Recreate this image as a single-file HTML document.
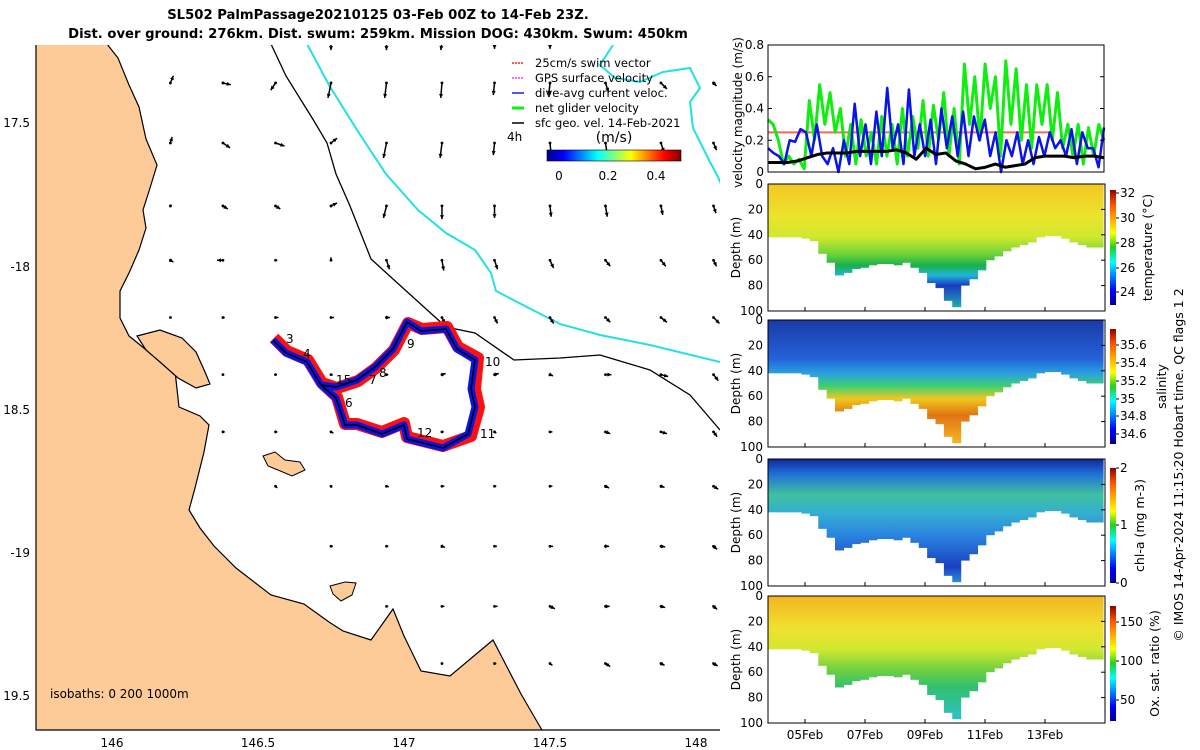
<!DOCTYPE html>
<html><head><meta charset="utf-8"><style>
html,body{margin:0;padding:0;background:#fff;}
svg{display:block;font-family:"DejaVu Sans","Liberation Sans",sans-serif;}
</style></head><body>
<svg id="fig" width="1200" height="750" viewBox="0 0 1200 750" xmlns="http://www.w3.org/2000/svg">
<defs>
<linearGradient id="jet" x1="0" x2="1" y1="0" y2="0">
<stop offset="0" stop-color="#00008f"/><stop offset="0.125" stop-color="#0000ff"/><stop offset="0.375" stop-color="#00ffff"/><stop offset="0.625" stop-color="#ffff00"/><stop offset="0.875" stop-color="#ff0000"/><stop offset="1" stop-color="#800000"/>
</linearGradient>
<linearGradient id="jetv" x1="0" x2="0" y1="1" y2="0">
<stop offset="0" stop-color="#00008f"/><stop offset="0.125" stop-color="#0000ff"/><stop offset="0.375" stop-color="#00ffff"/><stop offset="0.5" stop-color="#20d020"/><stop offset="0.625" stop-color="#ffff00"/><stop offset="0.875" stop-color="#ff5000"/><stop offset="1" stop-color="#900000"/>
</linearGradient>
<clipPath id="mapclip"><rect x="36" y="45" width="684" height="685"/></clipPath>
</defs>

<text x="378" y="19" text-anchor="middle" font-size="13.2" font-weight="bold">SL502 PalmPassage20210125 03-Feb 00Z to 14-Feb 23Z.</text>
<text x="378" y="38" text-anchor="middle" font-size="13.2" font-weight="bold">Dist. over ground: 276km. Dist. swum: 259km. Mission DOG: 430km. Swum: 450km</text>

<g id="map" clip-path="url(#mapclip)">
<polygon fill="#fccb98" stroke="#000" stroke-width="1.2" points="30,44 107,44 118,58 129,85 139,107 146,139 157,165 150,188 143,210 146,228 139,250 129,273 120,291 120,318 129,336 150,353 175,371 179,407 200,416 209,425 204,452 195,488 189,510 200,528 214,546 236,568 271,595 304,604 329,622 343,631 371,640 393,609 404,636 421,671 450,676 493,640 507,667 521,694 539,725 545,735 30,735"/>
<polygon fill="#fccb98" stroke="#000" stroke-width="1.2" points="137,336 160,330 182,338 196,352 205,372 210,384 196,388 178,378 160,362 146,350"/>
<polygon fill="#fccb98" stroke="#000" stroke-width="1" points="263,456 275,452 285,460 300,462 305,470 292,476 278,470 268,466"/>
<polygon fill="#fccb98" stroke="#000" stroke-width="1" points="330,586 345,582 356,583 352,595 341,601 333,594"/>
<polyline fill="none" stroke="#000" stroke-width="1.3" points="271,44 286,76 314,121 327,143 336,174 350,206 371,259 446,327 475,333 514,360 560,358 600,355 650,370 690,395 720,430"/>
<polyline fill="none" stroke="#22e0e6" stroke-width="2" points="307,44 329,85 357,130 386,174 418,210 446,233 475,250 491,273 496,291 521,304 560,324 600,335 650,345 720,362"/>
<polyline fill="none" stroke="#22e0e6" stroke-width="2" points="613,45 600,65 615,78 640,82 663,72 690,68 700,88 690,102 693,128 710,162 717,175 722,186"/>
<g id="arrows"></g>
<g>
<polyline fill="none" stroke="#ff1010" stroke-width="12" stroke-linejoin="round" points="274,338 287,351 308,360 322,383 337,388 358,381 376,368 394,350 408,323 422,329 447,327 458,347 478,358 475,389 479,407 471,436 443,446 407,437 404,423 382,432 357,424 345,424 337,397 322,383"/>
<polyline fill="none" stroke="#0a14e6" stroke-width="7" stroke-linejoin="round" points="273,340 286,353 307,362 321,385 336,387 357,380 375,367 393,349 407,322 421,331 446,329 457,349 475,360 471,389 475,407 468,434 443,448 407,439 404,425 382,434 357,425 345,425 336,398 321,385"/>
<polyline fill="none" stroke="#000" stroke-width="1.6" stroke-linejoin="round" points="273,340 286,353 307,362 321,385 336,387 357,380 375,367 393,349 407,322 421,331 446,329 457,349 475,360 471,389 475,407 468,434 443,448 407,439 404,425 382,434 357,425 345,425 336,398 321,385"/>
</g>
<g font-size="12">
<text x="286" y="343">3</text><text x="303" y="358">4</text><text x="336" y="384">15</text><text x="345" y="407">6</text><text x="369" y="384">7</text><text x="379" y="377">8</text><text x="407" y="348">9</text><text x="485" y="366">10</text><text x="480" y="438">11</text><text x="417" y="437">12</text>
</g>
<text x="50" y="698" font-size="12">isobaths: 0   200  1000m</text>
</g>
<polyline points="36,45 36,730 720,730" fill="none" stroke="#000" stroke-width="1.2"/>
<g font-size="12" text-anchor="middle">
<text x="112" y="747">146</text><text x="258" y="747">146.5</text><text x="404" y="747">147</text><text x="550" y="747">147.5</text><text x="696" y="747">148</text>
</g>
<g font-size="12" text-anchor="end">
<text x="30" y="127">17.5</text><text x="30" y="271">-18</text><text x="30" y="414">18.5</text><text x="30" y="557">-19</text><text x="30" y="700">19.5</text>
</g>

<g font-size="11.5">
<line x1="512" y1="63" x2="524" y2="63" stroke="#ff2020" stroke-width="1.5" stroke-dasharray="2 1"/><text x="535" y="67">25cm/s swim vector</text>
<line x1="512" y1="78" x2="524" y2="78" stroke="#ff30ff" stroke-width="1.5" stroke-dasharray="2 1"/><text x="535" y="82">GPS surface velocity</text>
<line x1="512" y1="93" x2="524" y2="93" stroke="#1020ff" stroke-width="1.5"/><text x="535" y="97">dive-avg current veloc.</text>
<line x1="512" y1="108" x2="524" y2="108" stroke="#10ee10" stroke-width="3"/><text x="535" y="112">net glider velocity</text>
<line x1="512" y1="123" x2="524" y2="123" stroke="#000" stroke-width="1.5"/><text x="535" y="127">sfc geo. vel. 14-Feb-2021</text>
<text x="507" y="141" font-size="12">4h</text>
<text x="614" y="142" font-size="14" text-anchor="middle">(m/s)</text>
<rect x="547" y="150" width="134" height="11" fill="url(#jet)" stroke="#000" stroke-width="0.6"/>
<text x="559" y="180" text-anchor="middle" font-size="12">0</text><text x="608" y="180" text-anchor="middle" font-size="12">0.2</text><text x="656" y="180" text-anchor="middle" font-size="12">0.4</text>
</g>

<g id="vel"></g>
<g id="depth"></g>

<text transform="translate(1183,465) rotate(-90)" text-anchor="middle" font-size="12.5">© IMOS 14-Apr-2024 11:15:20 Hobart time. QC flags 1  2</text>
</svg>
<script>
const NS='http://www.w3.org/2000/svg';
function mk(tag,attrs,parent){const e=document.createElementNS(NS,tag);for(const k in attrs)e.setAttribute(k,attrs[k]);parent.appendChild(e);return e;}

/* ---- geostrophic vector field data ---- */
const arrowLons=[146.2,146.38,146.56,146.75,146.94,147.13,147.31,147.5,147.69,147.88,148.06];
const arrowLats=[-17.22,-17.36,-17.57,-17.79,-17.98,-18.18,-18.38,-18.58,-18.77,-18.98,-19.19,-19.39];
const arrowU=[
[null,null,null,0,0,-0.02,0,0,null,null,null],
[0.05,0.13,-0.08,-0.05,-0.03,-0.02,-0.02,-0.02,0.05,0.1,0.05],
[0.03,0.12,0.15,0.1,-0.05,-0.03,-0.02,0.02,0.03,0.05,0.05],
[0.02,0.08,0.08,0.1,-0.05,0,0,0.02,0.03,0.03,0.04],
[0.05,-0.1,0.03,0,0.05,0.03,0.05,0.06,0.08,0.08,0.05],
[0.02,0.03,0.05,0.05,0.06,0.05,0.05,0.06,0.08,0.1,0.1],
[null,0.02,0.02,0.03,0.03,0.06,0.07,0.05,0.1,0.12,0.08],
[null,0.03,0.03,0.04,0.03,0.03,0.03,0.04,0.08,0.1,0.06],
[null,null,0.03,0.02,0.04,0.04,0.03,0.04,0.06,0.06,0.08],
[null,null,null,0.03,0.03,0.05,0.04,0.05,0.06,0.07,0.06],
[null,null,null,null,0.03,0.04,0.05,0.08,0.07,0.07,0.06],
[null,null,null,null,null,0.02,0.03,0.04,0.08,0.06,0.07]];
const arrowV=[
[null,null,null,-0.12,-0.12,-0.12,-0.1,-0.1,null,null,null],
[0.12,-0.03,-0.12,-0.25,-0.25,-0.25,-0.2,-0.2,-0.15,-0.1,-0.05],
[0.1,-0.08,-0.05,0.08,-0.25,-0.25,-0.2,-0.2,-0.2,-0.15,-0.12],
[0.02,-0.05,-0.05,0.05,-0.2,-0.22,-0.2,-0.18,-0.18,-0.15,-0.12],
[-0.03,0,0,0.05,-0.15,-0.17,-0.15,-0.13,-0.1,-0.1,-0.1],
[0,0,0,0,0,-0.1,-0.1,-0.1,-0.08,-0.08,-0.1],
[null,0,0,0,0,0.02,0.02,-0.02,0,-0.03,-0.1],
[null,0,0,-0.02,0,0,-0.02,0,-0.03,-0.03,-0.08],
[null,null,-0.03,-0.02,-0.01,0,0,0,-0.03,-0.02,-0.05],
[null,null,null,0,0,-0.02,0,0,0,-0.01,-0.05],
[null,null,null,null,0,0,0,-0.04,0,-0.02,-0.05],
[null,null,null,null,null,0,0,-0.03,-0.05,-0.03,-0.04]];
const lonX=lon=>112+(lon-146)*292;
const latY=lat=>123+(-lat-17.5)*286;
const ARROW_SCALE=60;
const ag=document.getElementById('arrows');
arrowLats.forEach((lat,i)=>arrowLons.forEach((lon,j)=>{
  const u=arrowU[i][j],v=arrowV[i][j]; if(u===null)return;
  const x=lonX(lon),y=latY(lat),dx=u*ARROW_SCALE,dy=-v*ARROW_SCALE;
  const ex=x+dx,ey=y+dy,L=Math.hypot(dx,dy)||1,ux=dx/L,uy=dy/L;
  const g=mk('g',{},ag);
  
  
  mk('circle',{cx:x,cy:y,r:1.4,fill:'#000'},g);
  mk('line',{x1:x,y1:y,x2:ex,y2:ey,stroke:'#000','stroke-width':1.5},g);
  if(L>3){mk('polygon',{points:`${ex},${ey} ${ex-ux*4-uy*2},${ey-uy*4+ux*2} ${ex-ux*4+uy*2},${ey-uy*4-ux*2}`,fill:'#000'},g);}
}));

/* ---- velocity magnitude panel data ---- */
const greenSpeed=[0.33,0.3,0.2,0.05,0.1,0.05,0.08,0.02,0.45,0.2,0.55,0.3,0.5,0.25,0.4,0.1,0.3,0.05,0.33,0.1,0.25,0.05,0.35,0.1,0.3,0.05,0.4,0.1,0.35,0.15,0.45,0.1,0.42,0.2,0.5,0.1,0.4,0.05,0.68,0.3,0.6,0.2,0.68,0.4,0.6,0.1,0.7,0.3,0.65,0.2,0.55,0.15,0.55,0.3,0.55,0.2,0.5,0.15,0.3,0.1,0.3,0.05,0.28,0.1,0.3,0.2];
const blueSpeed=[0.15,0.12,0.1,0.05,0.2,0.19,0.27,0.25,0.1,0.3,0.1,0.05,0.15,0.0,0.2,0.05,0.43,0.1,0.3,0.05,0.38,0.1,0.53,0.15,0.3,0.05,0.52,0.1,0.3,0.1,0.33,0.05,0.4,0.15,0.35,0.1,0.38,0.1,0.35,0.2,0.33,0.1,0.25,0.0,0.2,0.1,0.25,0.05,0.2,0.05,0.22,0.1,0.25,0.15,0.2,0.1,0.27,0.05,0.25,0.15,0.15,0.03,0.28];
const blackSpeed=[0.06,0.06,0.06,0.07,0.09,0.11,0.12,0.12,0.12,0.13,0.13,0.13,0.13,0.14,0.12,0.08,0.15,0.11,0.12,0.07,0.05,0.02,0.03,0.05,0.03,0.04,0.05,0.09,0.1,0.1,0.1,0.09,0.1,0.1,0.09];
const swimSpeed=[0.25,0.25];
const velTicks=['0','0.2','0.4','0.6','0.8'];
const VX0=768,VX1=1104,VY0=45,VY1=172;
const vy=v=>VY1-(v/0.8)*(VY1-VY0);
const vg=document.getElementById('vel');
function series(arr,color,w,name,x1){const n=arr.length;const end=x1||VX1;
  const pts=arr.map((v,i)=>`${VX0+i*(end-VX0)/(n-1)},${vy(v)}`).join(' ');
  const p=mk('polyline',{points:pts,fill:'none',stroke:color,'stroke-width':w,'stroke-linejoin':'round'},vg);
  
  }
series(swimSpeed,'#ff6060',2,'swim-speed-line',1050);
series(greenSpeed,'#10ee10',3,'net-glider-speed-line');
series(blueSpeed,'#0a14e6',2.5,'dive-avg-current-line');
series(blackSpeed,'#000',3,'geo-velocity-line');
mk('rect',{x:VX0,y:VY0,width:VX1-VX0,height:VY1-VY0,fill:'none',stroke:'#000','stroke-width':1},vg);
velTicks.forEach((t,i)=>{const y=vy(parseFloat(t));
  const tx=mk('text',{x:VX0-4,y:y+4,'text-anchor':'end','font-size':12},vg);tx.textContent=t;
  
  
  mk('line',{x1:VX0,x2:VX0+4,y1:y,y2:y,stroke:'#000'},vg);mk('line',{x1:VX1-4,x2:VX1,y1:y,y2:y,stroke:'#000'},vg);});
const vl=mk('text',{transform:`translate(742,${(VY0+VY1)/2+4}) rotate(-90)`,'text-anchor':'middle','font-size':12},vg);
vl.textContent='velocity magnitude (m/s)';



/* ---- depth section data ---- */
const mixedDepth=[42,42,42,42,43,45,55,62,72,70,67,66,64,63,63,64,62,66,70,78,82,92,97,80,75,68,60,57,53,50,48,46,42,41,41,43,46,48,50,50];
const depthTicks=['0','20','40','60','80','100'];
const timeTicks=['05Feb','07Feb','09Feb','11Feb','13Feb'];
const timeTickDays=[5,7,9,11,13];
const DX0=768,DX1=1105;
const dayX=d=>805+(d-5)*30;
const panels=[
 {name:'temperature',top:184,label:'temperature (°C)',labelX:1152,cb:[190,305],ticks:['32','30','28','26','24'],tickY:[193,218,243,268,292],
  stops:[[0,'#f3c624'],[25,'#ece32c'],[42,'#cfe82e'],[55,'#70d43a'],[64,'#18b24a'],[72,'#20b4d8'],[80,'#1a3cc0'],[100,'#20c0b0']]},
 {name:'salinity',top:320,label:'salinity',labelX:1166,cb:[329,444],ticks:['35.6','35.4','35.2','35','34.8','34.6'],tickY:[345,363,381,399,416,434],
  stops:[[0,'#1a3aa8'],[30,'#2460d8'],[42,'#2aa0e0'],[52,'#3cd070'],[62,'#f0c820'],[75,'#e07412'],[90,'#f0a020'],[100,'#f0c020']]},
 {name:'chl-a',top:459,label:'chl-a (mg m-3)',labelX:1144,cb:[468,583],ticks:['2','1','0'],tickY:[468,525,583],
  stops:[[0,'#12289a'],[12,'#2070d8'],[28,'#40c0a0'],[42,'#34b0d0'],[60,'#2a84e0'],[85,'#1a40c0'],[100,'#30a0e0']]},
 {name:'oxygen',top:596,label:'Ox. sat. ratio (%)',labelX:1159,cb:[606,721],ticks:['150','100','50'],tickY:[622,661,700],
  stops:[[0,'#f2b422'],[25,'#f0e030'],[42,'#d2e830'],[58,'#70d040'],[72,'#30c070'],[100,'#30c0d0']]}
];
const dg=document.getElementById('depth');
const defs=document.querySelector('defs');
panels.forEach((P,pi)=>{
  const H=127,y0=P.top,y1=P.top+H;const dy=d=>y0+d/100*H;
  const gr=mk('linearGradient',{id:'g'+pi,gradientUnits:'userSpaceOnUse',x1:0,x2:0,y1:y0,y2:y1},defs);
  P.stops.forEach(s=>mk('stop',{offset:s[0]/100,'stop-color':s[1]},gr));
  const g=mk('g',{},dg);
  
  
  const n=mixedDepth.length,w=(DX1-2-DX0)/n;
  mixedDepth.forEach((d,i)=>{const r=mk('rect',{x:DX0+i*w,y:y0,width:w+0.6,height:dy(d)-y0,fill:`url(#g${pi})`},g);
    
    });
  mk('rect',{x:DX0,y:y0,width:DX1-DX0,height:H,fill:'none',stroke:'#000','stroke-width':1},g);
  depthTicks.forEach(t=>{const y=dy(+t);const tx=mk('text',{x:DX0-5,y:y+4,'text-anchor':'end','font-size':12},g);tx.textContent=t;
    
    
    mk('line',{x1:DX1-4,x2:DX1,y1:y,y2:y,stroke:'#000'},g);});
  const yl=mk('text',{transform:`translate(740,${y0+H/2}) rotate(-90)`,'text-anchor':'middle','font-size':12},g);yl.textContent='Depth (m)';
  
  
  const cb=mk('rect',{x:1110,y:P.cb[0],width:6,height:P.cb[1]-P.cb[0],fill:'url(#jetv)'},g);
  
  
  P.ticks.forEach((t,k)=>{const y=P.tickY[k];mk('line',{x1:1116,x2:1119,y1:y,y2:y,stroke:'#000'},g);
    const tx=mk('text',{x:1120,y:y+4,'font-size':12},g);tx.textContent=t;
    
    });
  const cl=mk('text',{transform:`translate(${P.labelX},${(P.cb[0]+P.cb[1])/2}) rotate(-90)`,'text-anchor':'middle','font-size':12.5},g);cl.textContent=P.label;
  
  
  timeTickDays.forEach(d=>{const x=dayX(d);mk('line',{x1:x,x2:x,y1:y1-4,y2:y1,stroke:'#000'},g);});
});
const lastBottom=596+127;
timeTicks.forEach((t,k)=>{const tx=mk('text',{x:dayX(timeTickDays[k]),y:lastBottom+16,'text-anchor':'middle','font-size':12},dg);tx.textContent=t;
  
  });
</script>
</body></html>
